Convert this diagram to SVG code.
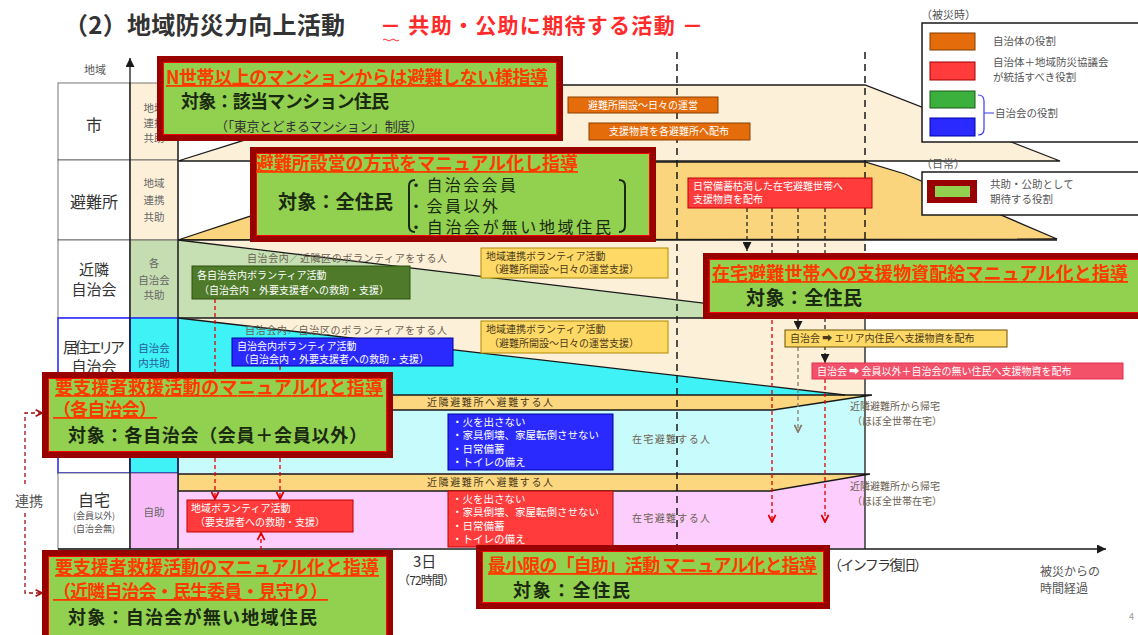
<svg xmlns="http://www.w3.org/2000/svg" width="1138" height="635" viewBox="0 0 1138 635">
<defs>
<style>
text{font-family:"Noto Sans CJK JP","Noto Sans CJK SC",sans-serif}
.rl{font-size:16px;fill:#333;text-anchor:middle}
.sl{font-size:10.5px;fill:#666;text-anchor:middle}
.w{font-size:10px;fill:#fff}
.wl{font-size:10.5px;fill:#fff}
.d{font-size:10px;fill:#4a3a1a}
.g{font-size:10px;fill:#6b6050}
.lg{font-size:10.5px;fill:#555}
.rt{font-size:18px;font-weight:bold;fill:#ff3a00;text-decoration:underline}
.rb{font-size:18px;font-weight:bold;fill:#1a2a10}
.role{fill:#92d050;stroke:#990000;stroke-width:6}
.rolein{fill:none;stroke:#ff0000;stroke-width:1}
.bl{stroke:#1a1a1a;stroke-width:1.3;fill:none}
.kd{stroke:#1a1a1a;stroke-width:1.5;stroke-dasharray:7 5;fill:none}
.kd2{stroke:#1a1a1a;stroke-width:1.2;stroke-dasharray:4 3;fill:none}
.rd{stroke:#e00000;stroke-width:1.3;stroke-dasharray:4 3;fill:none}
.gd{stroke:#8a7a6a;stroke-width:1.3;stroke-dasharray:4 3;fill:none}
</style>
<marker id="ah" viewBox="0 0 10 10" refX="10" refY="5" markerUnits="userSpaceOnUse" markerWidth="10" markerHeight="9" orient="auto"><path d="M0,0 L10,5 L0,10 z" fill="#1a1a1a"/></marker>
<marker id="rv" viewBox="0 0 10 10" refX="9" refY="5" markerUnits="userSpaceOnUse" markerWidth="9" markerHeight="9" orient="auto"><path d="M1,1 L9,5 L1,9" fill="none" stroke="#e00000" stroke-width="2"/></marker>
<marker id="gv" viewBox="0 0 10 10" refX="9" refY="5" markerUnits="userSpaceOnUse" markerWidth="9" markerHeight="9" orient="auto"><path d="M1,1 L9,5 L1,9" fill="none" stroke="#8a7a6a" stroke-width="2"/></marker>
<marker id="bv" viewBox="0 0 10 10" refX="9" refY="5" markerUnits="userSpaceOnUse" markerWidth="8" markerHeight="8" orient="auto"><path d="M1,1 L9,5 L1,9" fill="none" stroke="#a01010" stroke-width="2"/></marker>
</defs>
<rect width="1138" height="635" fill="#fff"/>

<!-- title -->
<text x="64" y="34" font-size="24" font-weight="bold" fill="#333" textLength="281">（2）地域防災力向上活動</text>
<text x="380" y="33" font-size="21" font-weight="bold" fill="#ff2a2a" textLength="323">－ 共助・公助に期待する活動 －</text>
<path d="M383,40 q2,-2 4,0 t4,0 t4,0 t4,0" stroke="#ff2a2a" fill="none" stroke-width="1"/>

<!-- background bands -->
<g id="bands">
<polygon points="178,161 420,85 865,85 1060,161" fill="#fdf0d9" stroke="#1a1a1a" stroke-width="1.3"/>
<polygon points="178,240 414,162 865,162 905,174 1057,239" fill="#fbd57e" stroke="#1a1a1a" stroke-width="1.3"/>
<rect x="178" y="240" width="687" height="155" fill="#fdf0d9"/>
<polygon points="178,240 828,318 178,318" fill="#c6e0b4"/>
<polygon points="178,318 845,395 178,395" fill="#3ef2f6"/>
<rect x="178" y="395" width="687" height="78" fill="#c8fbfb"/>
<rect x="178" y="473" width="687" height="75" fill="#fdcdfd"/>
<polygon points="178,395 872,395 773,410 178,410" fill="#fcd77f" stroke="#1a1a1a" stroke-width="1.3"/>
<polygon points="178,474 870,474 770,491 178,491" fill="#fcd77f" stroke="#1a1a1a" stroke-width="1.3"/>
<line x1="178" y1="240" x2="828" y2="318" class="bl"/>
<line x1="178" y1="318" x2="845" y2="395" class="bl"/>
<line x1="178" y1="318" x2="865" y2="318" class="bl"/>
<line x1="178" y1="240" x2="1057" y2="240" class="bl"/>
<line x1="865" y1="318" x2="865" y2="549" class="bl" stroke-width="1.6"/>
</g>

<!-- row labels -->
<g id="rows">
<rect x="58" y="83" width="72" height="77" fill="#fff" stroke="#555" stroke-width="0.8"/>
<rect x="130" y="83" width="48" height="77" fill="#fdf0d9" stroke="#555" stroke-width="0.8"/>
<rect x="58" y="160" width="72" height="80" fill="#fff" stroke="#555" stroke-width="0.8"/>
<rect x="130" y="160" width="48" height="80" fill="#fdf0d9" stroke="#555" stroke-width="0.8"/>
<rect x="58" y="240" width="72" height="78" fill="#fff" stroke="#555" stroke-width="0.8"/>
<rect x="130" y="240" width="48" height="78" fill="#c6ddb2" stroke="#555" stroke-width="0.8"/>
<rect x="58" y="318" width="72" height="155" fill="#fff" stroke="#2020ff" stroke-width="1.5"/>
<rect x="130" y="318" width="48" height="155" fill="#3ef2f6" stroke="#2020ff" stroke-width="1.5"/>
<rect x="58" y="473" width="72" height="76" fill="#fff" stroke="#555" stroke-width="0.8"/>
<rect x="130" y="473" width="48" height="76" fill="#f8bdf8" stroke="#555" stroke-width="0.8"/>
<line x1="178" y1="83" x2="178" y2="549" class="bl"/>
<text class="rl" x="94" y="131">市</text>
<text class="rl" x="94" y="208">避難所</text>
<text class="rl" x="94" y="275" style="font-size:15px">近隣</text>
<text class="rl" x="94" y="295" style="font-size:15px">自治会</text>
<text class="rl" x="63" y="353" style="text-anchor:start;font-size:15px" textLength="62">居住エリア</text>
<text class="rl" x="94" y="372" style="font-size:15px">自治会</text>
<text class="rl" x="94" y="506">自宅</text>
<text class="rl" x="94" y="519" style="font-size:9px;fill:#555">(会員以外)</text>
<text class="rl" x="94" y="532" style="font-size:9px;fill:#555">(自治会無)</text>
<text class="sl" x="154" y="112">地域</text>
<text class="sl" x="154" y="127">連携</text>
<text class="sl" x="154" y="142">共助</text>
<text class="sl" x="154" y="187">地域</text>
<text class="sl" x="154" y="204">連携</text>
<text class="sl" x="154" y="221">共助</text>
<text class="sl" x="154" y="267">各</text>
<text class="sl" x="154" y="284">自治会</text>
<text class="sl" x="154" y="299">共助</text>
<text class="sl" x="154" y="352" style="fill:#2a5a9a">自治会</text>
<text class="sl" x="154" y="367" style="fill:#2a5a9a">内共助</text>
<text class="sl" x="154" y="516">自助</text>
<text x="95" y="74" font-size="11" fill="#555" text-anchor="middle">地域</text>
<rect x="12" y="488" width="36" height="22" fill="#fff"/>
<text x="29" y="506" font-size="14" fill="#555" text-anchor="middle">連携</text>
</g>

<!-- axes -->
<g id="axes">
<line x1="130" y1="549" x2="130" y2="58" class="bl" marker-end="url(#ah)"/>
<line x1="58" y1="549" x2="1106" y2="549" class="bl" stroke-width="1.6" marker-end="url(#ah)"/>
<text x="413" y="567" font-size="15" fill="#333">3日</text>
<text x="398" y="585" font-size="12" fill="#333" textLength="57">（72時間）</text>
<text x="828" y="570" font-size="14" fill="#333" textLength="100">（インフラ復旧）</text>
<text x="1040" y="576" font-size="12" fill="#555">被災からの</text>
<text x="1040" y="593" font-size="12" fill="#555">時間経過</text>
<text x="1129" y="620" font-size="9" fill="#999">4</text>
</g>

<!-- connectors -->
<g id="connectors">
<line x1="677" y1="52" x2="677" y2="548" class="kd"/>
<line x1="865" y1="52" x2="865" y2="255" class="kd"/>
<line x1="747" y1="208" x2="747" y2="251" class="kd2" marker-end="url(#ah)"/>
<line x1="772" y1="208" x2="772" y2="254" class="kd2"/>
<line x1="798" y1="208" x2="798" y2="254" class="kd2"/>
<line x1="825" y1="208" x2="825" y2="254" class="kd2"/>
<line x1="798" y1="318" x2="798" y2="330" class="kd2" marker-end="url(#ah)"/>
<line x1="825" y1="318" x2="825" y2="363" class="kd2" marker-end="url(#ah)"/>
<line x1="772" y1="320" x2="772" y2="522" class="rd" marker-end="url(#rv)"/>
<line x1="825" y1="379" x2="825" y2="522" class="rd" marker-end="url(#rv)"/>
<line x1="798" y1="347" x2="798" y2="432" class="gd" marker-end="url(#gv)"/>
<line x1="215" y1="299" x2="215" y2="372" class="rd"/>
<line x1="215" y1="458" x2="215" y2="499" class="rd" marker-end="url(#rv)"/>
<line x1="280" y1="366" x2="280" y2="372" class="rd"/>
<line x1="280" y1="458" x2="280" y2="499" class="rd" marker-end="url(#rv)"/>
<line x1="261" y1="550" x2="261" y2="533" class="rd" marker-end="url(#rv)"/>
<path d="M42,413 L25,413 L25,486" stroke="#a01010" stroke-width="1.3" stroke-dasharray="4 3" fill="none"/>
<path d="M25,513 L25,593 L42,593" stroke="#a01010" stroke-width="1.3" stroke-dasharray="4 3" fill="none" marker-end="url(#bv)"/>
<line x1="30" y1="413" x2="42" y2="413" stroke="none" marker-end="url(#bv)"/>
</g>

<!-- activity boxes -->
<g id="act-city1"><rect x="568" y="97" width="150" height="16" fill="#e46c0a" stroke="#8a4000"/><text class="w" x="643" y="109" text-anchor="middle">避難所開設～日々の運営</text></g>
<g id="act-city2"><rect x="589" y="123" width="161" height="17" fill="#e46c0a" stroke="#8a4000"/><text class="w" x="669" y="135" text-anchor="middle">支援物資を各避難所へ配布</text></g>
<g id="act-shelter"><rect x="688" y="178" width="184" height="30" fill="#ff3b3b" stroke="#c00000"/><text class="w" x="693" y="190">日常備蓄枯渇した在宅避難世帯へ</text><text class="w" x="693" y="203">支援物資を配布</text></g>
<g id="act-vol1"><rect x="481" y="248" width="187" height="30" fill="#ffd966" stroke="#b08a00"/><text class="d" x="486" y="260">地域連携ボランティア活動</text><text class="d" x="489" y="273">（避難所開設～日々の運営支援）</text></g>
<g id="act-vol2"><rect x="481" y="321" width="187" height="32" fill="#ffd966" stroke="#b08a00"/><text class="d" x="486" y="333">地域連携ボランティア活動</text><text class="d" x="489" y="347">（避難所開設～日々の運営支援）</text></g>
<g id="act-green"><rect x="192" y="266" width="218" height="33" fill="#4e7a2a" stroke="#2f5010"/><text class="w" x="197" y="279">各自治会内ボランティア活動</text><text class="w" x="199" y="294">（自治会内・外要支援者への救助・支援）</text></g>
<g id="act-blue"><rect x="232" y="338" width="221" height="28" fill="#2a2aff" stroke="#0000a0"/><text class="w" x="237" y="350">自治会内ボランティア活動</text><text class="w" x="239" y="363">（自治会内・外要支援者への救助・支援）</text></g>
<g id="act-bluelist"><rect x="448" y="414" width="165" height="56" fill="#2a2aff" stroke="#0000a0"/><text class="wl" x="452" y="425.5">・火を出さない</text><text class="wl" x="452" y="439">・家具倒壊、家屋転倒させない</text><text class="wl" x="452" y="452.5">・日常備蓄</text><text class="wl" x="452" y="466">・トイレの備え</text></g>
<g id="act-redlist"><rect x="448" y="491" width="165" height="56" fill="#ff3b3b" stroke="#c00000"/><text class="wl" x="452" y="502.5">・火を出さない</text><text class="wl" x="452" y="516">・家具倒壊、家屋転倒させない</text><text class="wl" x="452" y="529.5">・日常備蓄</text><text class="wl" x="452" y="543">・トイレの備え</text></g>
<g id="act-redvol"><rect x="187" y="500" width="166" height="32" fill="#ff3b3b" stroke="#c00000"/><text class="w" x="191" y="512">地域ボランティア活動</text><text class="w" x="195" y="526">（要支援者への救助・支援）</text></g>
<g id="act-yel"><rect x="785" y="330" width="222" height="17" fill="#ffd966" stroke="#6a5000"/><text class="d" x="790" y="342">自治会 ➡ エリア内住民へ支援物資を配布</text></g>
<g id="act-red2"><rect x="812" y="363" width="311" height="16" fill="#f3506a" stroke="#e03050"/><text class="w" x="817" y="375">自治会 ➡ 会員以外＋自治会の無い住民へ支援物資を配布</text></g>

<!-- band texts -->
<g id="band-texts">
<text class="g" x="247" y="262" textLength="200">自治会内／近隣区のボランティアをする人</text>
<text class="g" x="245" y="334" textLength="202">自治会内／自治区のボランティアをする人</text>
<text class="d" x="427" y="406" textLength="126">近隣避難所へ避難する人</text>
<text class="d" x="427" y="486" textLength="126">近隣避難所へ避難する人</text>
<text class="g" x="632" y="443" textLength="78">在宅避難する人</text>
<text class="g" x="632" y="522" textLength="78">在宅避難する人</text>
<text class="g" x="850" y="410">近隣避難所から帰宅</text>
<text class="g" x="852" y="425">（ほぼ全世帯在宅）</text>
<text class="g" x="850" y="490">近隣避難所から帰宅</text>
<text class="g" x="852" y="505">（ほぼ全世帯在宅）</text>
</g>

<!-- role boxes -->
<g id="role1"><rect class="role" x="160" y="59" width="400" height="79"/><rect class="rolein" x="163.5" y="62.5" width="393" height="72"/>
<text class="rt" x="166" y="84" textLength="382">N世帯以上のマンションからは避難しない様指導</text>
<text class="rb" x="181" y="108" textLength="208">対象：該当マンション住民</text>
<text x="215" y="131" font-size="13" fill="#333" textLength="208">（「東京とどまるマンション」制度）</text></g>

<g id="role2"><rect class="role" x="253" y="150" width="400" height="89"/><rect class="rolein" x="256.5" y="153.5" width="393" height="82"/>
<text class="rt" x="256" y="170" textLength="322">避難所設営の方式をマニュアル化し指導</text>
<text class="rb" x="278" y="209" style="font-size:19px" textLength="115">対象：全住民</text>
<path d="M415,180 Q409,180 409,186 L409,226 Q409,232 415,232" stroke="#1a2a10" stroke-width="2" fill="none"/>
<path d="M619,180 Q625,180 625,186 L625,226 Q625,232 619,232" stroke="#1a2a10" stroke-width="2" fill="none"/>
<text x="408" y="191" font-size="16" fill="#1a2a10" textLength="108">・自治会会員</text>
<text x="408" y="212" font-size="16" fill="#1a2a10" textLength="90">・会員以外</text>
<text x="408" y="233" font-size="16" fill="#1a2a10" textLength="203">・自治会が無い地域住民</text></g>

<g id="role3"><rect class="role" x="706" y="256" width="436" height="60"/><rect class="rolein" x="709.5" y="259.5" width="429" height="53"/>
<text class="rt" x="712" y="280" textLength="416">在宅避難世帯への支援物資配給マニュアル化と指導</text>
<text class="rb" x="746" y="305" style="font-size:19px" textLength="116">対象：全住民</text></g>

<g id="role4"><rect class="role" x="45" y="375" width="345" height="80"/><rect class="rolein" x="48.5" y="378.5" width="338" height="73"/>
<text class="rt" x="55" y="394" textLength="328">要支援者救援活動のマニュアル化と指導</text>
<text class="rt" x="53" y="416" textLength="104">（各自治会）</text>
<text class="rb" x="68" y="442" textLength="299">対象：各自治会（会員＋会員以外）</text></g>

<g id="role5"><rect class="role" x="45" y="553" width="345" height="88"/><rect class="rolein" x="48.5" y="556.5" width="338" height="81"/>
<text class="rt" x="55" y="574" textLength="324">要支援者救援活動のマニュアル化と指導</text>
<text class="rt" x="53" y="598" textLength="275">（近隣自治会・民生委員・見守り）</text>
<text class="rb" x="68" y="624" textLength="249">対象：自治会が無い地域住民</text></g>

<g id="role6"><rect class="role" x="479" y="548" width="348" height="58"/><rect class="rolein" x="482.5" y="551.5" width="341" height="51"/>
<text class="rt" x="488" y="572" textLength="329">最小限の「自助」活動 マニュアル化と指導</text>
<text class="rb" x="513" y="597" textLength="117">対象：全住民</text></g>

<!-- legend -->
<g id="legend">
<text x="921" y="19" font-size="11" fill="#555">（被災時）</text>
<rect x="922" y="23" width="220" height="119" fill="#fff" stroke="#1a1a1a" stroke-width="1.5"/>
<rect x="930" y="33" width="45" height="17" fill="#e46c0a" stroke="#7f3f00"/>
<text class="lg" x="993" y="45">自治体の役割</text>
<rect x="930" y="62" width="45" height="18" fill="#ff3b3b" stroke="#a00000"/>
<text class="lg" x="993" y="66">自治体＋地域防災協議会</text>
<text class="lg" x="993" y="81">が統括すべき役割</text>
<rect x="930" y="91" width="45" height="17" fill="#3cb03c" stroke="#1a5a1a"/>
<rect x="930" y="118" width="45" height="18" fill="#2a2aff" stroke="#0000a0"/>
<path d="M978,95 Q984,95 984,101 L984,129 Q984,135 978,135 M984,113 L994,113" stroke="#3a3aff" stroke-width="1.2" fill="none"/>
<text class="lg" x="995" y="117">自治会の役割</text>
<text x="921" y="168" font-size="11" fill="#555">（日常）</text>
<rect x="922" y="172" width="220" height="43" fill="#fff" stroke="#1a1a1a" stroke-width="1.5"/>
<rect x="927" y="180" width="50" height="23" fill="#990000"/>
<rect x="935" y="186" width="35" height="11" fill="#92d050"/>
<text class="lg" x="990" y="188">共助・公助として</text>
<text class="lg" x="990" y="203">期待する役割</text>
</g>
</svg>
